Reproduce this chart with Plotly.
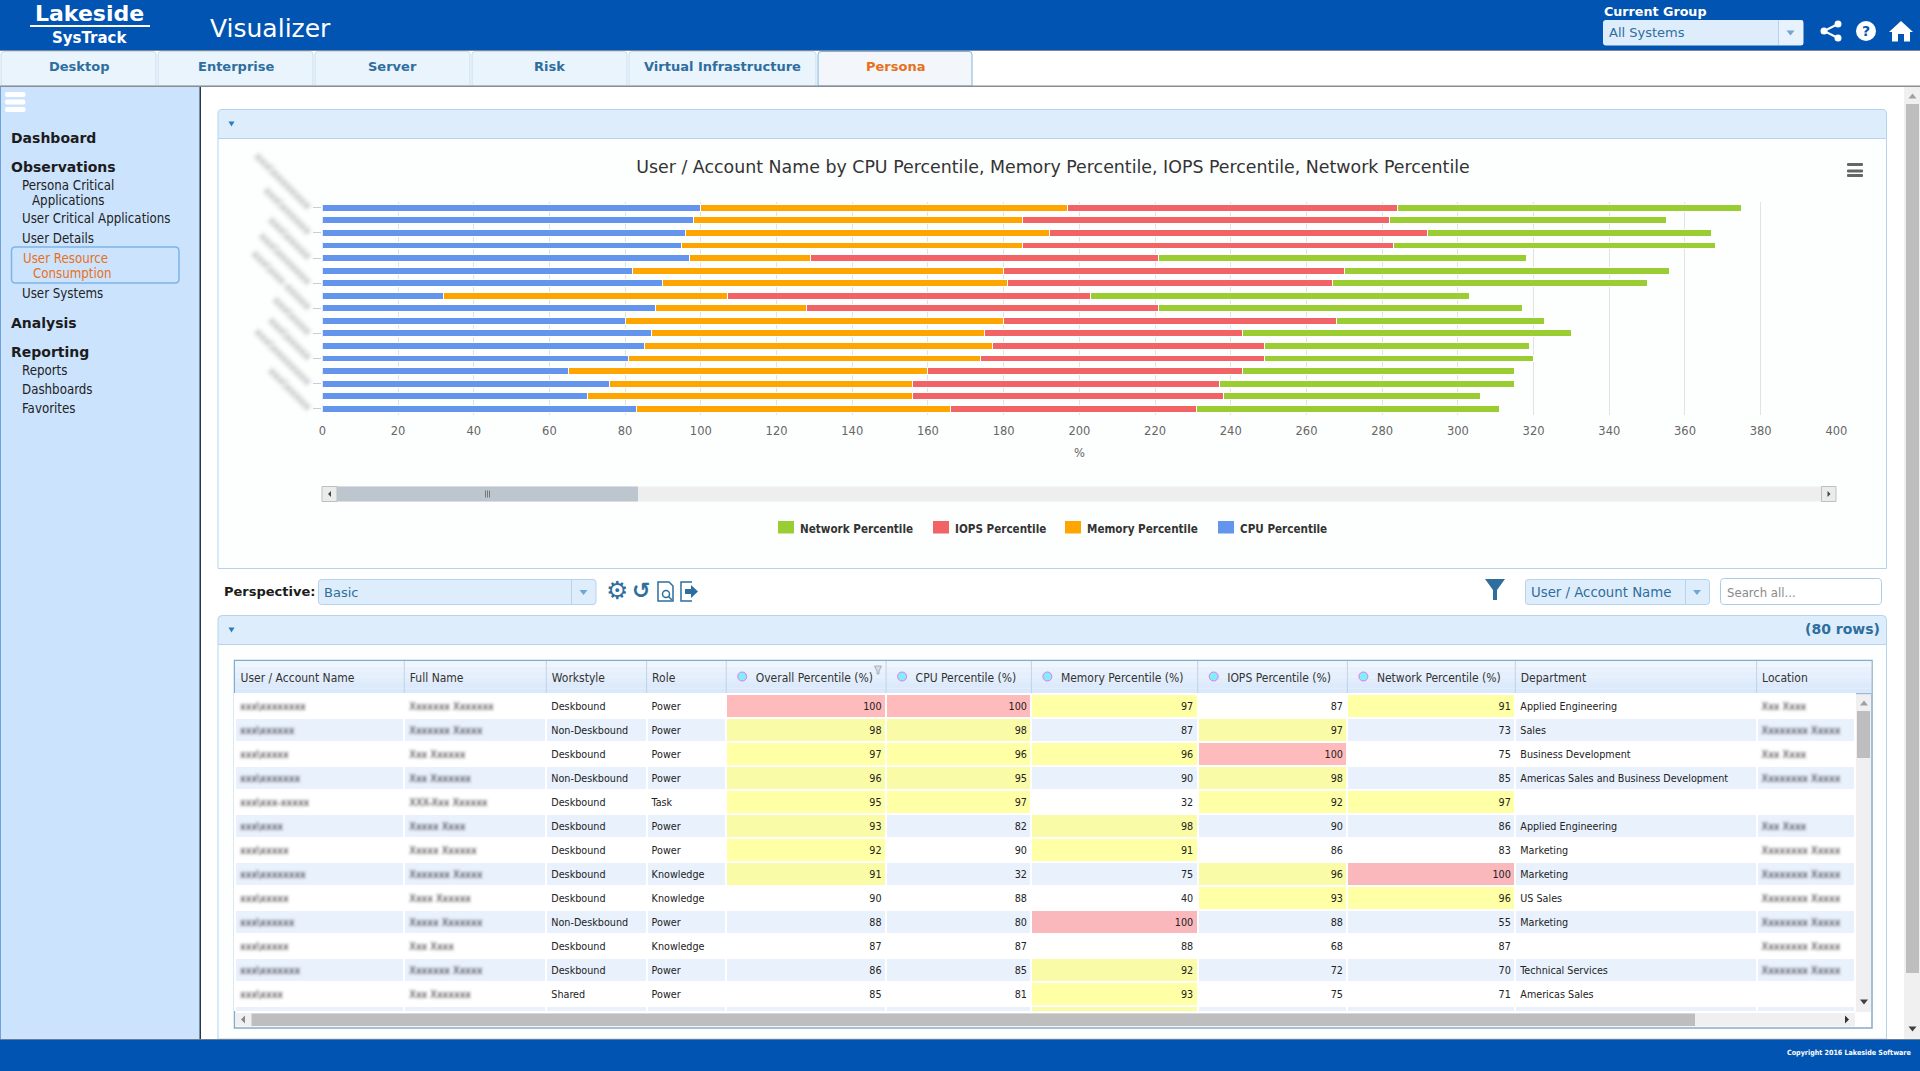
import plotly.graph_objects as go

W, H = 1920, 1071

# ---------- data ----------
users = [f"user {i:02d}" for i in range(1, 18)]
user_labels = ["xxx\\xxxxxxxx", "xxx\\xxxxxx", "xxx\\xxxxx", "xxx\\xxxxxxx", "xxx\\xxx-xxxxx", "xxx\\xxxx", "xxx\\xxxxx",
               "xxx\\xxxxxxxx", "xxx\\xxxxx", "xxx\\xxxxxx", "xxx\\xxxxx", "xxx\\xxxxxxx", "xxx\\xxxx", "xxx\\xxxxxx"]
full_names = ["Xxxxxxx Xxxxxxx", "Xxxxxxx Xxxxx", "Xxx Xxxxxx", "Xxx Xxxxxxx", "XXX-Xxx Xxxxxx", "Xxxxx Xxxx", "Xxxxx Xxxxxx",
              "Xxxxxxx Xxxxx", "Xxxx Xxxxxx", "Xxxxx Xxxxxxx", "Xxx Xxxx", "Xxxxxxx Xxxxx", "Xxx Xxxxxxx", "Xxxxx Xxxxxx"]
workstyle = ["Deskbound", "Non-Deskbound", "Deskbound", "Non-Deskbound", "Deskbound", "Deskbound", "Deskbound", "Deskbound",
             "Deskbound", "Non-Deskbound", "Deskbound", "Deskbound", "Shared", "Deskbound"]
role = ["Power", "Power", "Power", "Power", "Task", "Power", "Power", "Knowledge", "Knowledge", "Power", "Knowledge", "Power", "Power", "Power"]
overall = [100, 98, 97, 96, 95, 93, 92, 91, 90, 88, 87, 86, 85, 84]
cpu = [100, 98, 96, 95, 97, 82, 90, 32, 88, 80, 87, 85, 81, 65, 76, 70, 83]
memory = [97, 87, 96, 90, 32, 98, 91, 75, 40, 100, 88, 92, 93, 95, 80, 86, 83]
iops = [87, 97, 100, 98, 92, 90, 86, 96, 93, 88, 68, 72, 75, 83, 81, 82, 65]
network = [91, 73, 75, 85, 97, 86, 83, 100, 96, 55, 87, 70, 71, 72, 78, 68, 80]
department = ["Applied Engineering", "Sales", "Business Development", "Americas Sales and Business Development", "", "Applied Engineering",
              "Marketing", "Marketing", "US Sales", "Marketing", "", "Technical Services", "Americas Sales", ""]
loc_a, loc_b = "Xxx\u00a0Xxxx", "Xxxxxxxx\u00a0Xxxxx"
location = [loc_a, loc_b, loc_a, loc_b, "", loc_a, loc_b, loc_b, loc_b, loc_b, loc_b, loc_b, "", ""]
table_headers = ["User / Account Name", "Full Name", "Workstyle", "Role", "Overall Percentile (%)", "CPU Percentile (%)",
                 "Memory Percentile (%)", "IOPS Percentile (%)", "Network Percentile (%)", "Department", "Location"]
title = "User / Account Name by CPU Percentile, Memory Percentile, IOPS Percentile, Network Percentile"

# ---------- styles ----------
C_CPU, C_MEM, C_IOPS, C_NET = "#6495ED", "#FFA500", "#F16364", "#9ACD32"
BLUE, HDR, SIDE, LINK, ORANGE = "#0254B2", "#DEEDFB", "#CCE3FD", "#2E6E9E", "#E8701A"
BORDER = "#B5D3EC"
VERD = "DejaVu Sans"
TAH = "DejaVu Sans Condensed, DejaVu Sans"

px = lambda x: x / W
py = lambda y: 1 - y / H
shapes, notes = [], []

def rect(x0, y0, x1, y1, fill, line=None, lw=1):
    shapes.append(dict(type="rect", xref="paper", yref="paper", x0=px(x0), x1=px(x1), y0=py(y0), y1=py(y1),
                       fillcolor=fill, line=dict(color=line or "rgba(0,0,0,0)", width=lw if line else 0), layer="below"))

def path(d, fill="rgba(0,0,0,0)", line=None, lw=1):
    out = []
    for tok in d:
        if isinstance(tok, str):
            out.append(tok)
        else:
            out.append(f"{px(tok[0]):.6f},{py(tok[1]):.6f}")
    shapes.append(dict(type="path", xref="paper", yref="paper", path=" ".join(out), fillcolor=fill,
                       line=dict(color=line or "rgba(0,0,0,0)", width=lw if line else 0), layer="below"))

def rrect(x0, y0, x1, y1, r, fill, line=None, lw=1, top_only=False):
    rb = 0 if top_only else r
    path(["M", (x0 + r, y0), "L", (x1 - r, y0), "Q", (x1, y0), (x1, y0 + r), "L", (x1, y1 - rb), "Q", (x1, y1), (x1 - rb, y1),
          "L", (x0 + rb, y1), "Q", (x0, y1), (x0, y1 - rb), "L", (x0, y0 + r), "Q", (x0, y0), (x0 + r, y0), "Z"], fill, line, lw)

def tri(cx, cy, w, h, fill, up=False, side=None):
    if side == "l":
        path(["M", (cx + h / 2, cy - w / 2), "L", (cx + h / 2, cy + w / 2), "L", (cx - h / 2, cy), "Z"], fill)
    elif side == "r":
        path(["M", (cx - h / 2, cy - w / 2), "L", (cx - h / 2, cy + w / 2), "L", (cx + h / 2, cy), "Z"], fill)
    elif up:
        path(["M", (cx - w / 2, cy + h / 2), "L", (cx + w / 2, cy + h / 2), "L", (cx, cy - h / 2), "Z"], fill)
    else:
        path(["M", (cx - w / 2, cy - h / 2), "L", (cx + w / 2, cy - h / 2), "L", (cx, cy + h / 2), "Z"], fill)

def circle(cx, cy, r, fill, line=None, lw=1):
    shapes.append(dict(type="circle", xref="paper", yref="paper", x0=px(cx - r), x1=px(cx + r), y0=py(cy - r), y1=py(cy + r),
                       fillcolor=fill, line=dict(color=line or "rgba(0,0,0,0)", width=lw if line else 0), layer="below"))

def text(x, y, s, size=12, color="#222", font=TAH, anchor="left"):
    notes.append(dict(xref="paper", yref="paper", x=px(x), y=py(y), text=s, showarrow=False, xanchor=anchor, yanchor="middle",
                      borderpad=0, font=dict(size=size, color=color, family=font)))

# ---------- page chrome ----------
rect(0, 0, W, 50, BLUE)
rect(0, 50, W, 51, "#7A8794")
text(89.5, 13.5, "<b>Lakeside</b>", 22, "white", VERD, "center")
rect(30, 25, 150, 27, "white")
text(90, 38, "<b>SysTrack</b>", 15, "white", VERD, "center")
text(209, 28, "Visualizer", 25, "white", VERD)

tabs = [("Desktop", 1, 156), ("Enterprise", 158, 313), ("Server", 315, 470), ("Risk", 472, 627), ("Virtual Infrastructure", 629, 816), ("Persona", 818, 972)]
for name, a, b in tabs:
    act = name == "Persona"
    rrect(a, 51.5, b, 86, 3, "#F3F7FB" if act else "#EAF4FD", "#7FB2DE" if act else "#C7DCEE", 1, True)
    text((a + b) / 2, 66, f"<b>{name}</b>", 13, ORANGE if act else LINK, VERD, "center")
rect(0, 85.5, W, 87, "#8A8F94")

rect(0, 87, 200, 1040, SIDE)
rect(0, 87, 1, 1040, "#6FA3D8")
rect(199.5, 87, 201, 1040, "#26384A")
for y in (92, 99.5, 107):
    rrect(5, y, 25.5, y + 5, 2, "white")
for s, y in [("Dashboard", 138), ("Observations", 167), ("Analysis", 323), ("Reporting", 352)]:
    text(10, y, f"<b>{s}</b>", 14, "#1C1C1C", VERD)
for s, x, y in [("Persona Critical", 20.5, 185), ("Applications", 30.5, 200), ("User Critical Applications", 20.5, 219), ("User Details", 20.5, 238),
                ("User Systems", 20.5, 293), ("Reports", 20.5, 370), ("Dashboards", 20.5, 389), ("Favorites", 20.5, 408)]:
    text(x, y, s, 13.2, "#222", TAH)
rrect(11.5, 247, 179, 283, 4, SIDE, "#7DB5E8", 1.5)
text(21.5, 258, "User Resource", 13.2, ORANGE, TAH)
text(31.5, 273, "Consumption", 13.2, ORANGE, TAH)

# chart panel
rect(201, 87, 1904, 1040, "white")
rrect(218, 109.5, 1886.5, 138.5, 4, HDR, BORDER, 1, True)
rect(218, 138.5, 1886.5, 568.5, "#FDFEFE", BORDER)
tri(231.5, 124, 6, 5, "#2E7BC0")
for y in (163, 169.5, 174):
    rrect(1847, y, 1863, y + 3, 1, "#666666")

# chart scrollbar
SB0, SB1 = 486.5, 501.5
rect(322, SB0, 1836, SB1, "#EEEEEE")
rect(337, SB0, 638, SB1, "#BDC5CF")
for dx in (-2, 0, 2):
    rect(487 + dx, SB0 + 4, 488 + dx, SB1 - 4, "#777777")
rect(322, SB0, 337, SB1, "#EBEBEB", "#BFBFBF")
rect(1821.5, SB0, 1836, SB1, "#EBEBEB", "#BFBFBF")
tri(329.5, 494, 6, 3, "#444", side="l")
tri(1829, 494, 6, 3, "#444", side="r")

# legend
for name, col, x in [("Network Percentile", C_NET, 778), ("IOPS Percentile", C_IOPS, 933), ("Memory Percentile", C_MEM, 1065), ("CPU Percentile", C_CPU, 1218)]:
    rect(x, 521, x + 16, 533.5, col)
    text(x + 21, 528.5, f"<b>{name}</b>", 11.6, "#333", TAH)

# perspective row
text(223, 591.5, "<b>Perspective:</b>", 13, "#1C1C1C", VERD)
rrect(318.5, 579.5, 596, 604.5, 3, HDR, BORDER)
rect(571, 580, 572, 604, BORDER)
text(323, 592, "Basic", 13, LINK, VERD)
tri(583.5, 592.5, 8, 5, "#6FA6D6")
text(617, 590, "<b>\u2699</b>", 25, LINK, VERD, "center")
text(641, 590.5, "<b>\u21ba</b>", 22, LINK, VERD, "center")
path(["M", (658, 582), "L", (669, 582), "L", (673, 586), "L", (673, 601), "L", (658, 601), "Z"], "white", LINK, 1.5)
circle(666, 594, 3.5, "white", LINK, 1.5)
path(["M", (668.5, 596.5), "L", (672, 600)], line=LINK, lw=1.5)
path(["M", (692, 582), "L", (681, 582), "L", (681, 601), "L", (692, 601)], line=LINK, lw=1.5)
path(["M", (685, 589), "L", (691, 589), "L", (691, 585), "L", (698, 591.5), "L", (691, 598), "L", (691, 594), "L", (685, 594), "Z"], LINK)

path(["M", (1485, 579), "L", (1505, 579), "L", (1497, 590), "L", (1497, 600), "L", (1493, 600), "L", (1493, 590), "Z"], LINK)
rrect(1525.5, 579.5, 1709.5, 604.5, 3, HDR, BORDER)
rect(1685, 580, 1686, 604, BORDER)
text(1530, 592, "User / Account Name", 13.3, LINK, VERD)
tri(1697, 592.5, 8, 5, "#6FA6D6")
rrect(1720.5, 578.5, 1881.5, 604.5, 4, "white", "#A8CBE8")
text(1726, 592, "Search all...", 13, "#8A8A8A", TAH)

# table panel
rrect(218, 615.5, 1886.5, 644.5, 4, HDR, BORDER, 1, True)
rect(218, 644.5, 1886.5, 1039, "#FDFEFE", BORDER)
tri(231.5, 630, 6, 5, "#2E7BC0")
text(1881, 629, "<b>(80 rows)</b>", 14, LINK, VERD, "right")

# table frame & header gradient
rect(234.5, 660.5, 1872, 1028, "white", "#86AACB", 1.5)
bands = ["#EDF5FD", "#E9F2FC", "#E5F0FC", "#E1EDFB", "#DDEAFB", "#D9E8FA"]
for i, c in enumerate(bands):
    rect(235, 661 + i * 5.5, 1871.5, 661 + (i + 1) * 5.5, c)
rect(235, 693, 1871.5, 694.5, "#9DB8D2")
col_edges = [235, 404.3, 546.3, 646.6, 726.2, 886.1, 1031.4, 1197.7, 1347.4, 1515.3, 1756.6, 1855]
for e in col_edges[1:-1]:
    rect(e - 0.5, 661, e + 0.5, 693, "#BFD3E8")
for e in col_edges[4:9]:
    circle(e + 16, 676.5, 4.5, "#7FF0F5", "#F070F0", 1)
path(["M", (874.5, 666), "L", (881.5, 666), "L", (879, 671), "L", (879, 674), "L", (877, 674), "L", (877, 671), "Z"], "#D7DDE5", "#8D99A6", 0.7)

# table scrollbars
rect(1855, 694.5, 1871, 1012, "#F0F0F0")
rect(1857, 711, 1870, 758, "#BEBEBE")
tri(1864, 703, 8, 5, "#A0A0A0", up=True)
tri(1864, 1002, 8, 5, "#404040")
rect(235, 1013, 1855, 1026.5, "#F0F0F0")
rect(251.5, 1013.5, 1695, 1026, "#BEBEBE")
tri(243, 1019.5, 8, 4, "#888", side="l")
tri(1847, 1019.5, 8, 4, "#333", side="r")

# page scrollbar
rect(1904, 87, W, 1040, "#F0F0F0")
rect(1906, 104, 1919, 973, "#BEBEBE")
tri(1912.5, 96, 8, 5, "#A0A0A0", up=True)
tri(1912.5, 1029, 8, 5, "#404040")

# footer
rect(0, 1039, W, H, BLUE)
rect(0, 1039, W, 1040, "#6B7C90")
text(1913, 1052, "<b>Copyright 2016 Lakeside Software</b>", 7.1, "white", TAH, "right")

# header right
text(1602.5, 12, "<b>Current Group</b>", 12.7, "white", VERD)
rrect(1603, 20, 1803.5, 45.5, 3, HDR, None)
rect(1778, 20.5, 1803, 45, "#E8F2FC")
rect(1778, 20.5, 1779, 45, BORDER)
text(1607.5, 32.5, "All Systems", 13, LINK, VERD)
tri(1790.5, 33, 8, 5, "#6FA6D6")
for cx, cy in [(1838, 24), (1824, 31), (1838, 38)]:
    circle(cx, cy, 3.5, "white")
path(["M", (1838, 24), "L", (1824, 31), "L", (1838, 38)], line="white", lw=2)
circle(1866, 31, 10, "white")
text(1866, 31, "<b>?</b>", 14, BLUE, VERD, "center")
path(["M", (1901, 21), "L", (1913, 32), "L", (1910, 32), "L", (1910, 41.5), "L", (1904, 41.5), "L", (1904, 34), "L", (1898, 34), "L", (1898, 41.5),
      "L", (1892, 41.5), "L", (1892, 32), "L", (1889, 32), "Z"], "white")

# ---------- figure ----------
fig = go.Figure()
for name, vals, col in [("CPU Percentile", cpu, C_CPU), ("Memory Percentile", memory, C_MEM), ("IOPS Percentile", iops, C_IOPS), ("Network Percentile", network, C_NET)]:
    fig.add_trace(go.Bar(y=users, x=vals, name=name, orientation="h", marker=dict(color=col, line=dict(color="white", width=1)), showlegend=False))

rows = len(overall)
stripe = ["#FFFFFF" if i % 2 == 0 else "#E9F1FD" for i in range(rows)]
def heat(vals):
    out = []
    for i, v in enumerate(vals[:rows]):
        if v == 100:
            out.append("#FFBBBB" if i % 2 == 0 else "#FAB8BD")
        elif v > 90:
            out.append("#FFFFA5" if i % 2 == 0 else "#F9FBA6")
        else:
            out.append(stripe[i])
    return out
num_cols = [overall, cpu[:rows], memory[:rows], iops[:rows], network[:rows]]
widths = [b - a for a, b in zip(col_edges[:-1], col_edges[1:])]
pad = "\u00a0" * 7
hdr_vals = [h if "Percentile" not in h else pad + h.replace(" ", "\u00a0") for h in table_headers]
fig.add_trace(go.Table(
    domain=dict(x=[px(235), px(1855)], y=[py(1012), py(661)]),
    columnwidth=widths,
    header=dict(values=hdr_vals, height=33, align="left", fill=dict(color="rgba(0,0,0,0)"),
                line=dict(color="rgba(0,0,0,0)", width=0), font=dict(family=TAH, size=12, color="#333")),
    cells=dict(values=[user_labels, full_names, workstyle, role, *num_cols, department, location],
               height=24, align=["left"] * 4 + ["right"] * 5 + ["left"] * 2,
               fill=dict(color=[stripe, stripe, stripe, stripe, *[heat(v) for v in num_cols], stripe, stripe]),
               line=dict(color="white", width=2), font=dict(family=TAH, size=10.7, color="#222")),
))

fig.update_layout(
    width=W, height=H, margin=dict(l=0, r=0, t=0, b=0, autoexpand=False), paper_bgcolor="white", plot_bgcolor="rgba(0,0,0,0)",
    barmode="stack", bargap=0.45, showlegend=False, shapes=shapes, annotations=notes,
    title=dict(text=title, x=px(1053), xanchor="center", y=py(166.5), yanchor="middle", font=dict(family=VERD, size=17.4, color="#333")),
    font=dict(family=VERD),
    xaxis=dict(domain=[px(322.3), px(1836.4)], range=[0, 400], anchor="y", dtick=20, showgrid=True, gridcolor="#E2E2E2", gridwidth=1, zeroline=False,
               automargin=False, showline=False, ticks="outside", ticklen=5, tickcolor="rgba(0,0,0,0)", tickfont=dict(size=11.5, color="#666", family=VERD),
               title=dict(text="%", font=dict(size=11.5, color="#666"), standoff=12)),
    yaxis=dict(domain=[py(415), py(201.6)], autorange=False, range=[16.5, -0.5], type="category", categoryorder="array", categoryarray=users,
               automargin=False, tickmode="array", tickvals=users[::2], ticktext=user_labels[:9], tickangle=45, ticks="outside", ticklen=8, tickcolor="#C0D0E0",
               tickfont=dict(size=11, color="#888", family=VERD), showgrid=False, zeroline=False, showline=False),
)

left_cols = (3, 4, 5, 6, 12, 13)
right_cols = (7, 8, 9, 10, 11)
blur_cols = (3, 4, 13)
sel = lambda n: f".y-column:nth-child({n}) .column-block:not(#header) text"
css = (".scrollbar-kit{display:none!important}"
       ".ytick text{filter:blur(2px)}"
       ".column-block#header text{translate:-2.5px 3.5px}"
       + ",".join(sel(n) for n in left_cols) + "{translate:-3px 0}"
       + ",".join(sel(n) for n in right_cols) + "{translate:3.5px 0}"
       + ",".join(sel(n) for n in blur_cols) + "{filter:blur(1.7px)}")
post = ("document.body.style.margin='0';document.body.style.overflow='hidden';"
        "var s=document.createElement('style');s.textContent=%r;document.head.appendChild(s);" % css)
fig.write_html("out.html", config=dict(displayModeBar=False), post_script=post)
